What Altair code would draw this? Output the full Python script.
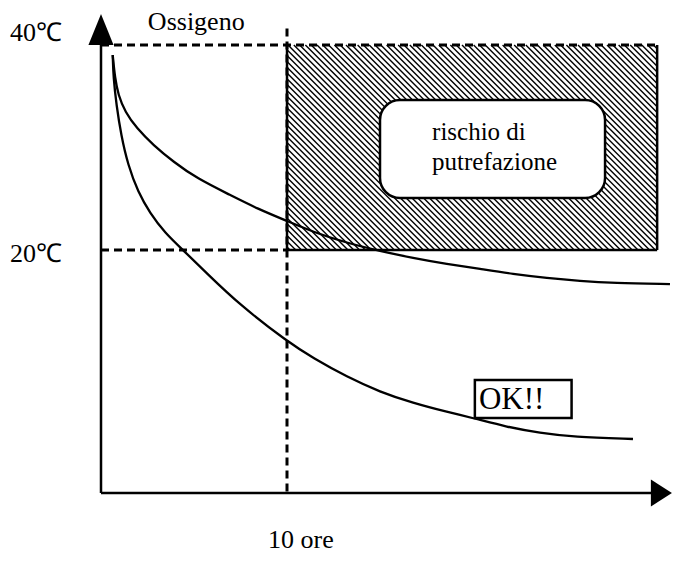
import altair as alt
import pandas as pd
import numpy as np

# ---- data (hours, °C) ----
upper_h = [0.63, 0.75, 0.93, 1.29, 1.92, 2.81, 3.89, 5.15, 6.94, 8.44, 10.0, 11.40, 13.23, 15.0, 16.77, 18.60, 20.38, 22.15, 23.98, 25.75, 27.53, 30.59]
upper_t = [39.02, 36.78, 35.12, 33.49, 31.87, 30.24, 28.61, 26.99, 25.37, 24.0, 22.83, 21.76, 20.68, 19.90, 19.22, 18.63, 18.15, 17.66, 17.27, 16.98, 16.78, 16.68]
lower_h = [0.63, 0.67, 0.83, 1.08, 1.45, 1.99, 2.63, 3.44, 4.41, 5.70, 7.47, 10.05, 11.40, 13.23, 15.0, 16.77, 18.60, 20.0, 21.83, 23.60, 25.38, 28.60]
lower_t = [39.02, 36.78, 34.15, 31.22, 28.29, 25.66, 23.61, 21.66, 20.0, 17.71, 14.63, 11.02, 9.46, 7.61, 6.15, 5.07, 4.20, 3.61, 2.73, 2.15, 1.76, 1.56]

risk_h = [10.0, 29.9]      # risk zone: hours
risk_t = [20.0, 40.0]      # risk zone: °C
threshold_hours = 10.0
temp_marks = [40.0, 20.0]
temp_labels = ["40℃", "20℃"]
axis_origin = [0.0, -3.7]
axis_end_h = 29.57
y_axis_top = 41.6

risk_box_h = [15.0, 27.1]
risk_box_t = [25.07, 34.63]
ok_box_h = [20.1, 25.3]
ok_box_t = [3.61, 7.32]

# ---- layout ----
W, H = 664, 547
KX, KY = 18.6, 10.25           # px per hour, px per °C
XMIN = -93 / KX
XMAX = XMIN + W / KX
YMAX = 40 + 37 / KY
YMIN = YMAX - H / KY
FONT = "Liberation Serif"

def X(f):
    return alt.X(f, type="quantitative", scale=alt.Scale(domain=[XMIN, XMAX], nice=False, zero=False), axis=None)

def Y(f):
    return alt.Y(f, type="quantitative", scale=alt.Scale(domain=[YMIN, YMAX], nice=False, zero=False), axis=None)

def X2(f):
    return alt.X2(f)

def Y2(f):
    return alt.Y2(f)

# ---- hatch texture of risk zone (45° lines, screen space) ----
px0, px1 = 101 + risk_h[0] * KX, 101 + risk_h[1] * KX
py0, py1 = 45 + (40 - risk_t[1]) * KY, 45 + (40 - risk_t[0]) * KY
rows = []
for c in np.arange(px0 - (py1 - py0) + 3, px1, 5.8):
    xa = max(px0, c)
    xb = min(px1, c + (py1 - py0))
    if xb <= xa:
        continue
    ya = py0 + (xa - c)
    yb = py0 + (xb - c)
    rows.append({"h": (xa - 101) / KX, "t": 40 - (ya - 45) / KY,
                 "h2": (xb - 101) / KX, "t2": 40 - (yb - 45) / KY})
hatch_df = pd.DataFrame(rows)

hatch = alt.Chart(hatch_df).mark_rule(color="black", strokeWidth=1.4).encode(
    x=X("h"), y=Y("t"), x2=X2("h2"), y2=Y2("t2"))

# risk zone border (solid: left, right, bottom)
border_df = pd.DataFrame([
    {"h": risk_h[0], "t": risk_t[0], "h2": risk_h[1], "t2": risk_t[0]},
    {"h": risk_h[1], "t": risk_t[0], "h2": risk_h[1], "t2": risk_t[1]},
    {"h": risk_h[0], "t": risk_t[0], "h2": risk_h[0], "t2": risk_t[1]},
])
border = alt.Chart(border_df).mark_rule(color="black", strokeWidth=2.5).encode(
    x=X("h"), y=Y("t"), x2=X2("h2"), y2=Y2("t2"))

# dashed guides
dash_df = pd.DataFrame([
    {"h": axis_origin[0], "t": temp_marks[0], "h2": risk_h[1], "t2": temp_marks[0]},
    {"h": axis_origin[0], "t": temp_marks[1], "h2": threshold_hours, "t2": temp_marks[1]},
    {"h": threshold_hours, "t": y_axis_top, "h2": threshold_hours, "t2": axis_origin[1]},
])
dashes = alt.Chart(dash_df).mark_rule(color="black", strokeWidth=3, strokeDash=[8, 5]).encode(
    x=X("h"), y=Y("t"), x2=X2("h2"), y2=Y2("t2"))

# curves
curve_df = pd.concat([
    pd.DataFrame({"h": upper_h, "t": upper_t, "s": "upper"}),
    pd.DataFrame({"h": lower_h, "t": lower_t, "s": "lower"}),
])
curves = alt.Chart(curve_df).mark_line(color="black", strokeWidth=2.3, interpolate="basis").encode(
    x=X("h"), y=Y("t"), detail="s:N", order="h:Q")

# boxes
risk_box = alt.Chart(pd.DataFrame([{"h": risk_box_h[0], "h2": risk_box_h[1], "t": risk_box_t[0], "t2": risk_box_t[1]}])).mark_rect(
    fill="white", stroke="black", strokeWidth=2.5, cornerRadius=20).encode(
    x=X("h"), x2=X2("h2"), y=Y("t"), y2=Y2("t2"))
ok_box = alt.Chart(pd.DataFrame([{"h": ok_box_h[0], "h2": ok_box_h[1], "t": ok_box_t[0], "t2": ok_box_t[1]}])).mark_rect(
    fill="white", stroke="black", strokeWidth=2.5).encode(
    x=X("h"), x2=X2("h2"), y=Y("t"), y2=Y2("t2"))

# axes
axes_df = pd.DataFrame([
    {"h": axis_origin[0], "t": axis_origin[1], "h2": axis_origin[0], "t2": temp_marks[0]},
    {"h": axis_origin[0], "t": axis_origin[1], "h2": axis_end_h, "t2": axis_origin[1]},
])
axes = alt.Chart(axes_df).mark_rule(color="black", strokeWidth=2.5).encode(
    x=X("h"), y=Y("t"), x2=X2("h2"), y2=Y2("t2"))

up_arrow = alt.Chart(pd.DataFrame([{"h": axis_origin[0], "t": 41.51}])).mark_point(
    shape="M0,-1L0.81,1L-0.81,1Z", size=961, filled=True, color="black", opacity=1, strokeWidth=0).encode(
    x=X("h"), y=Y("t"))
right_arrow = alt.Chart(pd.DataFrame([{"h": 30.13, "t": axis_origin[1]}])).mark_point(
    shape="M0.78,0L-0.78,-1L-0.78,1Z", size=729, filled=True, color="black", opacity=1, strokeWidth=0).encode(
    x=X("h"), y=Y("t"))

# texts
text_df = pd.DataFrame([
    {"h": -4.89, "t": 40.40, "label": temp_labels[0], "fs": 26},
    {"h": -4.89, "t": 18.85, "label": temp_labels[1], "fs": 26},
    {"h": 2.52, "t": 41.46, "label": "Ossigeno", "fs": 26},
    {"h": 8.98, "t": -9.12, "label": "10 ore", "fs": 26},
    {"h": 17.80, "t": 30.73, "label": "rischio di", "fs": 25},
    {"h": 17.80, "t": 27.85, "label": "putrefazione", "fs": 25},
    {"h": 20.32, "t": 4.49, "label": "OK!!", "fs": 31},
])
texts = alt.Chart(text_df).mark_text(align="left", baseline="alphabetic", font=FONT, color="black").encode(
    x=X("h"), y=Y("t"), text="label:N", size=alt.Size("fs:Q", scale=None, legend=None))

chart = alt.layer(
    hatch, border, dashes, curves, risk_box, ok_box, axes, up_arrow, right_arrow, texts
).properties(
    width=W, height=H, padding=0, autosize=alt.AutoSizeParams(type="none")
).configure_view(stroke=None)

chart.save("out.html", embed_options={"renderer": "svg", "actions": False})
